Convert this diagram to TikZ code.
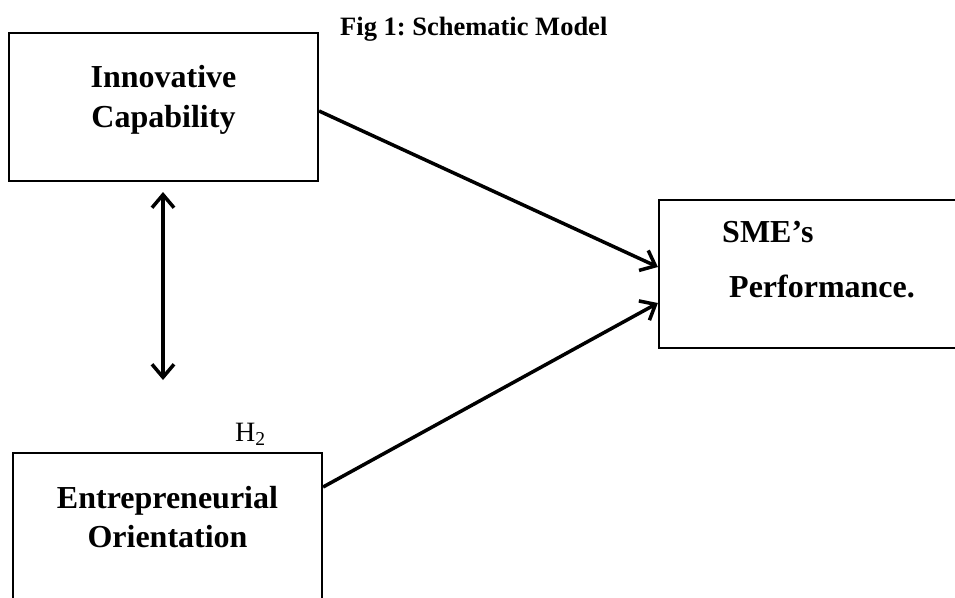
\documentclass[tikz,border=0pt]{standalone}
\usepackage{fontspec}
\setmainfont{Liberation Serif}
\usetikzlibrary{arrows.meta}
\frenchspacing
\begin{document}
\begin{tikzpicture}[x=1pt,y=-1pt,
  boxsty/.style={draw,line width=2.2pt,inner sep=0pt},
  lbl/.style={font=\fontsize{32}{38}\selectfont\bfseries,inner sep=0pt,anchor=base},
  conn/.style={line width=3.5pt,-{Straight Barb[length=13pt,width=22pt]}},
  dconn/.style={line width=3.5pt,{Straight Barb[length=13pt,width=22pt]}-{Straight Barb[length=13pt,width=22pt]}}
]
\clip (0,0) rectangle (955,597);
% boxes
\node[boxsty,minimum width=309pt,minimum height=148pt] (ic) at (163.5,107) {};
\node[boxsty,minimum width=306pt,minimum height=148pt] (sp) at (812,274) {};
\node[boxsty,minimum width=309pt,minimum height=157pt] (eo) at (167.5,531.5) {};
% texts
\node[font=\fontsize{26.5}{30}\selectfont\bfseries,inner sep=0pt,anchor=base west] (title) at (340,35) {Fig 1: Schematic Model};
\node[lbl] (ic1) at (163.5,87) {Innovative};
\node[lbl] (ic2) at (163.5,127) {Capability};
\node[lbl,anchor=base west] (sp1) at (722,242) {SME’s};
\node[lbl,anchor=base west] (sp2) at (729,297) {Performance.};
\node[lbl] (eo1) at (167.5,508) {Entrepreneurial};
\node[lbl] (eo2) at (167.5,547) {Orientation};
\node[font=\fontsize{28}{30}\selectfont,inner sep=0pt,anchor=base west] (h2) at (235,441) {H\textsubscript{2}};
% connectors
\coordinate (ua) at (163,192);
\coordinate (ub) at (163,380);
\draw[dconn] (ua) -- (ub);
\draw[conn] (ic.east |- 0,111) -- (sp.west |- 0,267);
\draw[conn] (eo.east |- 0,487) -- (sp.west |- 0,303);
\end{tikzpicture}
\end{document}
